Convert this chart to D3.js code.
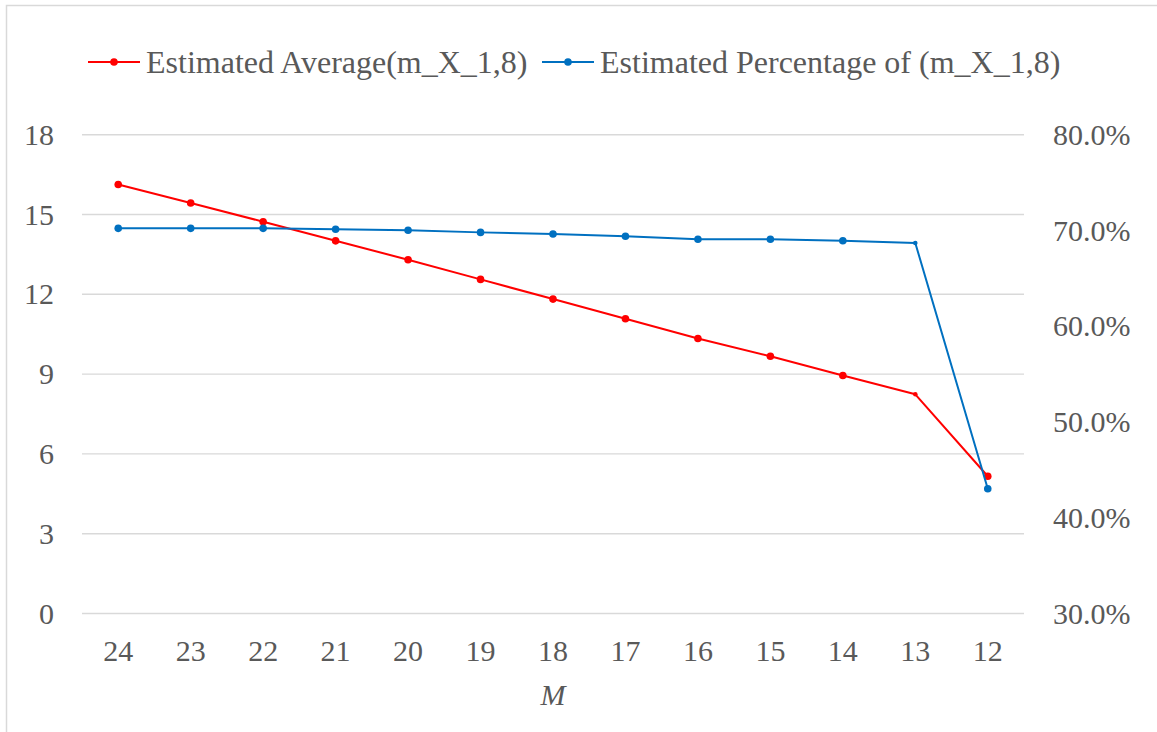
<!DOCTYPE html>
<html>
<head>
<meta charset="utf-8">
<script src="https://cdn.jsdelivr.net/npm/d3@7"></script>
<style>
  body { margin: 0; background: #fff; }
  text { font-family: "Liberation Serif", "Times New Roman", serif; fill: #595959; }
</style>
</head>
<body>
<div class="chart"></div>
<script>
var categories = ["24", "23", "22", "21", "20", "19", "18", "17", "16", "15", "14", "13", "12"];
var averageValues = [16.13, 15.43, 14.73, 14.01, 13.30, 12.56, 11.82, 11.08, 10.34, 9.67, 8.95, 8.24, 5.16];
var percentValues = [0.7022, 0.7022, 0.7022, 0.7012, 0.7002, 0.6980, 0.6963, 0.6939, 0.6908, 0.6908, 0.6893, 0.6869, 0.4303];
var leftTicks = [0, 3, 6, 9, 12, 15, 18];
var rightTicks = [0.3, 0.4, 0.5, 0.6, 0.7, 0.8];
var seriesNames = ["Estimated Average(m_X_1,8)", "Estimated Percentage of (m_X_1,8)"];

var svgWidth = 1157;
var svgHeight = 732;

var margin = { top: 134.7, right: 133, bottom: 118.5, left: 82 };
var width = svgWidth - margin.left - margin.right;
var height = svgHeight - margin.top - margin.bottom;

var svg = d3.select(".chart")
  .append("svg")
  .attr("width", svgWidth)
  .attr("height", svgHeight);

// outer chart border
svg.append("rect")
  .attr("x", 6.5)
  .attr("y", 5.5)
  .attr("width", 1160)
  .attr("height", 740)
  .attr("fill", "none")
  .attr("stroke", "#d9d9d9")
  .attr("stroke-width", 1.5);

var chartGroup = svg.append("g")
  .attr("transform", `translate(${margin.left}, ${margin.top})`);

var x = d3.scaleBand()
  .domain(categories)
  .range([0, width]);

var yLeft = d3.scaleLinear()
  .domain([0, 18])
  .range([height, 0]);

var yRight = d3.scaleLinear()
  .domain([0.3, 0.8])
  .range([height, 0]);

// gridlines
chartGroup.selectAll(".grid")
  .data(leftTicks)
  .enter()
  .append("line")
  .attr("x1", 0)
  .attr("x2", width)
  .attr("y1", d => yLeft(d))
  .attr("y2", d => yLeft(d))
  .attr("stroke", "#d9d9d9")
  .attr("stroke-width", 1.4);

// left axis
var leftAxis = d3.axisLeft(yLeft).tickValues(leftTicks).tickSize(0).tickPadding(28);
var gLeft = chartGroup.append("g").call(leftAxis);
gLeft.select(".domain").remove();
gLeft.selectAll("text")
  .attr("font-size", 30)
  .attr("font-family", null)
  .attr("fill", "#595959");

// right axis
var rightAxis = d3.axisRight(yRight).tickValues(rightTicks).tickSize(0).tickPadding(29).tickFormat(d3.format(".1%"));
var gRight = chartGroup.append("g")
  .attr("transform", `translate(${width}, 0)`)
  .call(rightAxis);
gRight.select(".domain").remove();
gRight.selectAll("text")
  .attr("font-size", 30)
  .attr("font-family", null)
  .attr("fill", "#595959");

// bottom axis
var bottomAxis = d3.axisBottom(x).tickSize(0).tickPadding(26);
var gBottom = chartGroup.append("g")
  .attr("transform", `translate(0, ${height})`)
  .call(bottomAxis);
gBottom.select(".domain").remove();
gBottom.selectAll("text")
  .attr("font-size", 30)
  .attr("font-family", null)
  .attr("fill", "#595959");

// axis title
chartGroup.append("text")
  .attr("x", width / 2)
  .attr("y", height + 92)
  .attr("text-anchor", "middle")
  .attr("font-size", 30)
  .attr("font-style", "italic")
  .text("M");

var colors = ["#ff0000", "#0070c0"];

function drawSeries(values, yScale, color) {
  var line = d3.line()
    .x((d, i) => x(categories[i]) + x.bandwidth() / 2)
    .y(d => yScale(d));

  chartGroup.append("path")
    .attr("d", line(values))
    .attr("fill", "none")
    .attr("stroke", color)
    .attr("stroke-width", 2)
    .attr("stroke-linejoin", "round");

  chartGroup.selectAll(null)
    .data(values)
    .enter()
    .append("circle")
    .attr("cx", (d, i) => x(categories[i]) + x.bandwidth() / 2)
    .attr("cy", d => yScale(d))
    .attr("r", (d, i) => categories[i] === "13" ? 2.3 : 3.8)
    .attr("fill", color);
}

drawSeries(averageValues, yLeft, colors[0]);
drawSeries(percentValues, yRight, colors[1]);

// legend
var legendX = [88, 542];
var legend = svg.selectAll(".legend")
  .data(seriesNames)
  .enter()
  .append("g")
  .attr("transform", (d, i) => `translate(${legendX[i]}, 62)`);

legend.append("line")
  .attr("x1", 0)
  .attr("x2", 52)
  .attr("stroke", (d, i) => colors[i])
  .attr("stroke-width", 2);

legend.append("circle")
  .attr("cx", 26)
  .attr("r", 3.8)
  .attr("fill", (d, i) => colors[i]);

legend.append("text")
  .attr("x", 58)
  .attr("y", 10.5)
  .attr("font-size", 32)
  .text(d => d);
</script>
</body>
</html>
